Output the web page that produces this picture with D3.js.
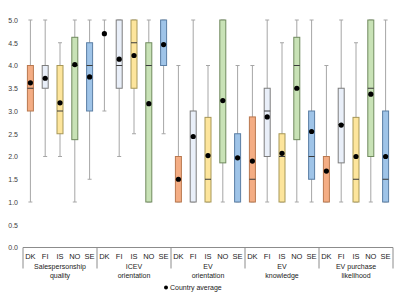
<!DOCTYPE html>
<html>
<head>
<meta charset="utf-8">
<script src="https://cdn.jsdelivr.net/npm/d3@7"></script>
<style>
  body { margin: 0; background: #fff; }
  svg { display: block; font-family: "Liberation Sans", Arial, sans-serif; }
</style>
</head>
<body>
<div id="chart"></div>
<script>
// data
const groups = ["Salespersonship quality", "ICEV orientation", "EV orientation", "EV knowledge", "EV purchase likelihood"];
const groupLines = [["Salespersonship", "quality"], ["ICEV", "orientation"], ["EV", "orientation"], ["EV", "knowledge"], ["EV purchase", "likelihood"]];
const countries = ["DK", "FI", "IS", "NO", "SE"];

// one row per group, one value per country
const lowWhisker = [
  [1, 2, 2, 1, 1.5],
  [3, 2, 2.5, 1, 2.5],
  [1, 1, 1, 1, 1],
  [1, 1, 1, 1, 1],
  [1, 1, 1, 1, 1]
];
const q1 = [
  [3, 3.5, 2.5, 2.37, 3],
  [5, 3.5, 3.5, 1, 4],
  [1, 1, 1, 1.86, 1],
  [1, 2, 1, 2.37, 1.5],
  [1, 1.86, 1, 2, 1]
];
const median = [
  [3.5, 4, 3, 4, 4],
  [5, 4, 4.5, 4, 5],
  [1, 1, 1.5, 5, 1],
  [1.5, 3, 2, 4, 2],
  [1, 2.7, 1.5, 3.5, 1.5]
];
const q3 = [
  [4, 4, 4, 4.62, 4.5],
  [5, 5, 5, 4.5, 5],
  [2, 3, 2.86, 5, 2.5],
  [2.87, 3.5, 2.5, 4.62, 3],
  [2, 3.5, 2.86, 5, 3]
];
const highWhisker = [
  [5, 5, 4.5, 5, 5],
  [5, 5, 5, 5, 5],
  [4, 5, 4, 5, 4],
  [4, 5, 4.5, 5, 5],
  [4, 5, 4.5, 5, 5]
];
const countryAvg = [
  [3.62, 3.72, 3.18, 4.02, 3.75],
  [4.7, 4.14, 4.22, 3.16, 4.46],
  [1.5, 2.44, 2.02, 3.23, 1.97],
  [1.9, 2.87, 2.07, 3.5, 2.55],
  [1.68, 2.69, 2.0, 3.37, 2.0]
];
const yTicks = [0, 0.5, 1, 1.5, 2, 2.5, 3, 3.5, 4, 4.5, 5];

// colours per country
const fillCol = { DK: "#f4ad84", FI: "#e9eff9", IS: "#fde59c", NO: "#c8e2b6", SE: "#9fc4e8" };
const lineCol = { DK: "#b9784f", FI: "#7d7d7d", IS: "#a79757", NO: "#708a5e", SE: "#5a7ea4" };

const width = 400, height = 300;
const plotLeft = 23, plotRight = 393, plotTop = 20, plotBottom = 247.5;

const svg = d3.select("#chart").append("svg")
  .attr("width", width)
  .attr("height", height);

const x = d3.scaleBand().domain(groups).range([plotLeft, plotRight]);
const xc = d3.scalePoint().domain(countries).range([0, x.bandwidth()]).padding(0.5);
const y = d3.scaleLinear().domain([0, 5]).range([plotBottom, plotTop]);

// y axis, labels only
const yAxis = svg.append("g")
  .attr("transform", "translate(" + plotLeft + ",0)")
  .call(d3.axisLeft(y).tickValues(yTicks).tickFormat(d3.format(".1f")).tickSize(0).tickPadding(5));
yAxis.select(".domain").remove();
yAxis.selectAll("text").attr("font-size", 7).attr("fill", "#404040").attr("font-family", "Liberation Sans, Arial, sans-serif");

// bottom frame
const frame = svg.append("g").attr("stroke", "#8c8c8c").attr("stroke-width", 1);
frame.append("line")
  .attr("x1", plotLeft).attr("x2", plotRight)
  .attr("y1", plotBottom).attr("y2", plotBottom);
const edges = groups.map(g => x(g)).concat([plotRight]);
frame.selectAll("line.sep")
  .data(edges)
  .enter()
  .append("line")
  .attr("class", "sep")
  .attr("x1", d => d).attr("x2", d => d)
  .attr("y1", plotBottom).attr("y2", plotBottom + 21);

// boxes
const boxW = 6, capW = 4;
groups.forEach(function (g, gi) {
  const gg = svg.append("g").attr("transform", "translate(" + x(g) + ",0)");
  countries.forEach(function (c, ci) {
    const cx = xc(c);
    // whisker
    gg.append("line")
      .attr("x1", cx).attr("x2", cx)
      .attr("y1", y(lowWhisker[gi][ci])).attr("y2", y(highWhisker[gi][ci]))
      .attr("stroke", "#a6a6a6").attr("stroke-width", 1);
    [lowWhisker[gi][ci], highWhisker[gi][ci]].forEach(function (v) {
      gg.append("line")
        .attr("x1", cx - capW / 2).attr("x2", cx + capW / 2)
        .attr("y1", y(v)).attr("y2", y(v))
        .attr("stroke", "#a6a6a6").attr("stroke-width", 1);
    });
    // box (skip if it has no height)
    if (q3[gi][ci] > q1[gi][ci]) {
      gg.append("rect")
        .attr("x", cx - boxW / 2)
        .attr("y", y(q3[gi][ci]))
        .attr("width", boxW)
        .attr("height", y(q1[gi][ci]) - y(q3[gi][ci]))
        .attr("fill", fillCol[c])
        .attr("stroke", lineCol[c])
        .attr("stroke-width", 1);
    }
    // median, only when inside the box
    if (median[gi][ci] > q1[gi][ci] && median[gi][ci] < q3[gi][ci]) {
      gg.append("line")
        .attr("x1", cx - boxW / 2).attr("x2", cx + boxW / 2)
        .attr("y1", y(median[gi][ci])).attr("y2", y(median[gi][ci]))
        .attr("stroke", "#3a3a3a").attr("stroke-width", 1);
    }
    // country average
    gg.append("circle")
      .attr("cx", cx).attr("cy", y(countryAvg[gi][ci]))
      .attr("r", 2.6)
      .attr("fill", "#000");
  });

  // country labels
  gg.selectAll("text.cty")
    .data(countries)
    .enter()
    .append("text")
    .attr("class", "cty")
    .attr("x", d => xc(d))
    .attr("y", plotBottom + 11)
    .attr("text-anchor", "middle")
    .attr("font-size", 7.5)
    .attr("fill", "#222")
    .text(d => d);

  // group label (two lines)
  gg.selectAll("text.grp")
    .data(groupLines[gi])
    .enter()
    .append("text")
    .attr("class", "grp")
    .attr("x", x.bandwidth() / 2)
    .attr("y", (d, i) => plotBottom + 21 + i * 9)
    .attr("text-anchor", "middle")
    .attr("font-size", 7)
    .attr("fill", "#222")
    .text(d => d);
});

// legend
const legend = svg.append("g").attr("transform", "translate(166,287.5)");
legend.append("circle").attr("r", 2).attr("fill", "#000");
legend.append("text")
  .attr("x", 4).attr("y", 2.5)
  .attr("font-size", 7)
  .attr("fill", "#222")
  .text("Country average");
</script>
</body>
</html>
